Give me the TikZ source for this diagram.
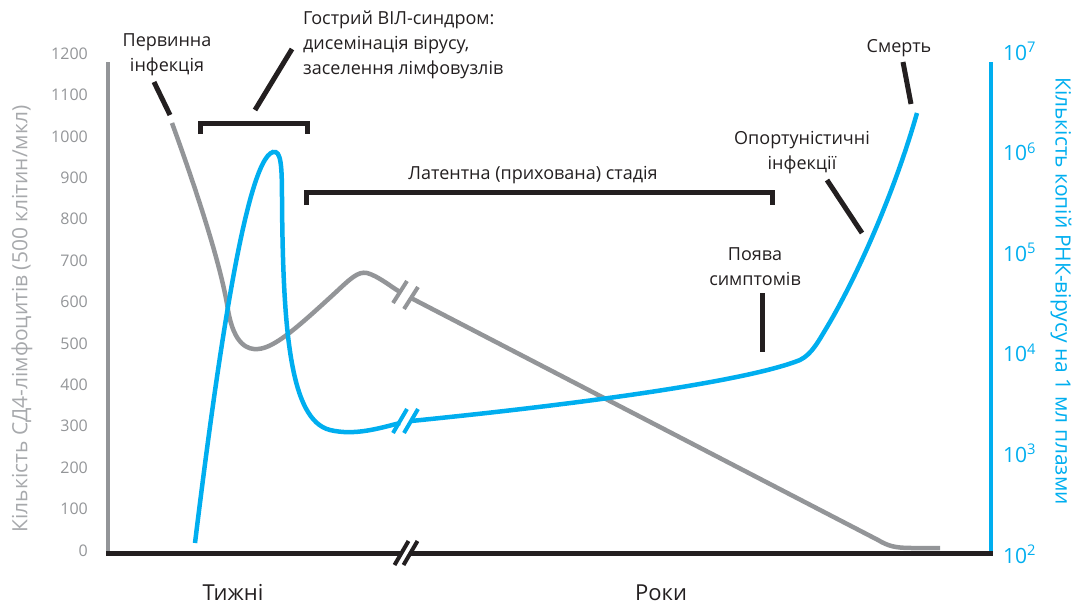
\documentclass[tikz,border=0pt]{standalone}
\usepackage{fontspec}
\setmainfont{Open Sans}
\usepackage{xcolor}
\usetikzlibrary{positioning}
\definecolor{virusblue}{HTML}{00AEEF}
\definecolor{cdgray}{HTML}{939598}
\definecolor{labelgray}{HTML}{A7A9AC}
\definecolor{inkblack}{HTML}{231F20}

\begin{document}
\begin{tikzpicture}[
    x=1pt, y=-1pt,
    % curves and axes
    cdcurve/.style={draw=cdgray, line width=4.5pt},
    viruscurve/.style={draw=virusblue, line width=4.5pt},
    pointer/.style={draw=inkblack, line width=5pt},
    bracket/.style={draw=inkblack, line width=5pt},
    breakmark/.style={line width=4pt},
    % texts
    lefttick/.style={font=\fontsize{16}{16}\selectfont, text=cdgray, anchor=base east, inner sep=0pt},
    righttick/.style={font=\fontsize{21}{21}\selectfont, text=virusblue, anchor=base west, inner sep=0pt},
    note/.style={font=\fontsize{18}{25}\selectfont, text=inkblack, align=center, inner sep=0pt},
    timelabel/.style={font=\fontsize{22}{22}\selectfont, text=inkblack, inner sep=0pt},
    axislabel/.style={font=\fontsize{21}{21}\selectfont, inner sep=0pt}
]
\useasboundingbox (0,0) rectangle (1079,608);

% Axes
\coordinate (origin) at (108,553);
\coordinate (lefttop) at (108,62);
\coordinate (rightbottom) at (991,553);
\coordinate (righttop) at (991,62);
\draw[draw=cdgray, line width=4pt] (lefttop) -- (origin);
\draw[draw=virusblue, line width=4pt] (righttop) -- (rightbottom);
\draw[draw=inkblack, line width=5pt] (106,553) -- (993,553);

% Break on the time axis
\coordinate (axisbreak) at (406,553);
\draw[white, line width=5pt] (axisbreak) ++(-7,12) -- ++(14,-24);
\draw[inkblack, breakmark] (axisbreak) ++(-11.5,12) -- ++(14,-24);
\draw[inkblack, breakmark] (axisbreak) ++(-2.5,12) -- ++(14,-24);

% Tick labels
\foreach \v in {0,100,...,1200}
    \node[lefttick] (cd\v) at (88, 556-\v*0.414) {\v};
\foreach \k in {2,...,7}
    \node[righttick] (rna\k) at (1003, 563-\k*100.6+201.2) {10\textsuperscript{\k}};

% Axis titles
\node[axislabel, rotate=90, text=labelgray] (cdtitle) at (22,319)
    {Кількість СД4-лімфоцитів (500 клітин/мкл)};
\node[axislabel, rotate=-90, text=virusblue] (rnatitle) at (1061,291)
    {Кількість копій РНК-вірусу на 1 мл плазми};
\node[timelabel] (weeks) at (233,592) {Тижні};
\node[timelabel] (years) at (661,593) {Роки};

% CD4 count (gray)
\coordinate (grayjump) at (405,295);
\draw[cdcurve] (172,123) .. controls (200,200) and (222,270) .. (228,310)
    .. controls (234,345) and (248,350) .. (258,349)
    .. controls (275,348) and (300,325) .. (335,293)
    .. controls (350,279) and (358,271) .. (367,273)
    .. controls (378,276) and (390,286) .. (400,292);
\draw[cdcurve] (411,298) -- (878,540)
    .. controls (888,546) and (895,548) .. (912,548) -- (940,548);
\draw[cdgray, breakmark] (grayjump) ++(-12,8) -- ++(14,-22);
\draw[cdgray, breakmark] (grayjump) ++(-1,14) -- ++(14,-22);

% Virus load (blue)
\coordinate (bluejump) at (405,421);
\draw[viruscurve] (195,543) .. controls (215,380) and (245,160) .. (273,152)
    .. controls (281,150) and (282,165) .. (282,200)
    .. controls (283,330) and (290,420) .. (330,430)
    .. controls (355,436) and (380,428) .. (400,423);
\draw[viruscurve] (411,421) .. controls (600,402) and (750,380) .. (800,360)
    .. controls (812,354) and (818,342) .. (830,322)
    .. controls (860,270) and (895,190) .. (917,113);
\draw[virusblue, breakmark] (bluejump) ++(-12,12) -- ++(14,-24);
\draw[virusblue, breakmark] (bluejump) ++(-1,12) -- ++(14,-24);

% Notes and pointers
\node[note] (primary) at (167,55) {Первинна\\інфекція};
\coordinate (primaryfoot) at (154,82);
\coordinate (primarytip) at (170,115);
\draw[pointer] (primaryfoot) -- (primarytip);

\node[note, align=left, anchor=west] (acute) at (303,45)
    {Гострий ВІЛ-синдром:\\дисемінація вірусу,\\заселення лімфовузлів};
\coordinate (acutefoot) at (292,49);
\coordinate (acutetip) at (255,110);
\draw[pointer] (acutefoot) -- (acutetip);
\draw[bracket] (200,134) -- (200,123) -- (307,123) -- (307,134);

\node[note] (latent) at (533,175) {Латентна (прихована) стадія};
\draw[bracket] (306,205) -- (306,192) -- (772,192) -- (772,205);

\node[note] (symptoms) at (755,267) {Поява\\симптомів};
\coordinate (symptomsfoot) at (762,293);
\coordinate (symptomstip) at (762,352);
\draw[pointer] (symptomsfoot) -- (symptomstip);

\node[note] (oppo) at (802,153) {Опортуністичні\\інфекції};
\coordinate (oppofoot) at (827,180);
\coordinate (oppotip) at (862,233);
\draw[pointer] (oppofoot) -- (oppotip);

\node[note] (death) at (899,48) {Смерть};
\coordinate (deathfoot) at (903,62);
\coordinate (deathtip) at (911,104);
\draw[pointer] (deathfoot) -- (deathtip);
\end{tikzpicture}
\end{document}
